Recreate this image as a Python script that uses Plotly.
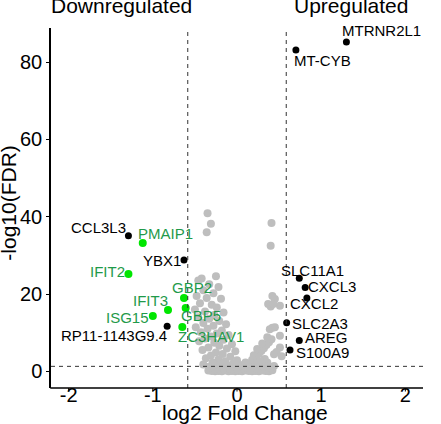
import plotly.graph_objects as go

# ---------------- data ----------------
# non-significant genes (grey)
grey_x = [-0.35, -0.31, -0.36,
          -0.25, -0.42, -0.46, -0.33, -0.22, -0.40, -0.28, -0.48, -0.36, -0.19,
          -0.44, -0.30, -0.24, -0.50, -0.38, -0.16, -0.27, -0.46, -0.33, -0.21,
          -0.40, -0.13, -0.28, -0.49, -0.35, -0.18, -0.43, -0.24, -0.10, -0.31,
          -0.38, -0.16, -0.45, -0.27, -0.06, -0.21, -0.34, -0.12, -0.41, -0.02,
          -0.25, -0.17, -0.31, -0.08, -0.37, -0.22, 0.00, -0.14, -0.29, -0.05,
          -0.40, -0.19, -0.33, -0.11,
          -0.34, -0.30, -0.26, -0.22, -0.18, -0.14, -0.10, -0.06, -0.02, 0.02,
          0.06, 0.10, 0.14, 0.18, 0.22, 0.26, 0.30, 0.34, 0.38, 0.42,
          -0.32, -0.24, -0.16, -0.08, 0.00, 0.08, 0.16, 0.24, 0.32, 0.40, 0.44,
          -0.28, -0.20, -0.12, -0.04, 0.04, 0.12, 0.20, 0.28, 0.36,
          0.05, 0.10, 0.14, 0.18, 0.22, 0.20, 0.26, 0.29, 0.24, 0.32, 0.35,
          0.30, 0.38, 0.41, 0.36, 0.51, 0.51, 0.53, 0.42, 0.39, 0.45, 0.40,
          0.51, 0.45, 0.42, 0.37, 0.43, 0.41, 0.40, 0.33, 0.47, 0.44, 0.27]
grey_y = [40.9, 38.2, 36.0,
          24.6, 24.0, 23.5, 22.5, 21.8, 21.0, 20.2, 19.5, 19.0, 18.8,
          17.6, 17.2, 16.5, 16.0, 15.5, 15.2, 14.6, 14.0, 13.6, 13.0,
          12.5, 12.2, 11.8, 11.4, 11.0, 10.6, 10.1, 9.8, 9.4, 9.0,
          8.5, 8.2, 7.8, 7.4, 7.0, 6.6, 6.2, 5.9, 5.5, 5.2,
          4.9, 4.5, 4.1, 3.8, 3.4, 3.1, 2.9, 2.6, 2.3, 2.0,
          1.8, 1.5, 1.2, 1.0,
          0.2, 0.1, 0.0, 0.1, 0.0, 0.2, 0.0, 0.1, 0.0, 0.1,
          0.0, 0.2, 0.1, 0.0, 0.1, 0.0, 0.2, 0.1, 0.0, 0.3,
          1.0, 0.8, 0.9, 0.7, 0.8, 0.9, 0.7, 0.8, 1.1, 1.0, 1.4,
          1.6, 1.7, 1.5, 1.8, 1.6, 1.9, 1.7, 2.0, 2.3,
          1.5, 2.3, 2.0, 3.0, 3.4, 4.2, 4.5, 5.3, 5.8, 6.0, 6.8,
          7.2, 7.5, 8.3, 8.8, 9.2, 6.2, 3.9, 11.3, 10.9, 11.4, 16.8,
          17.0, 18.7, 19.5, 17.4, 17.4, 38.4, 32.5, 3.2, 5.0, 4.4, 2.6]

# labelled genes
lab_names = ["MTRNR2L1", "MT-CYB", "CCL3L3", "PMAIP1", "YBX1", "IFIT2", "GBP2",
             "IFIT3", "GBP5", "ISG15", "RP11-1143G9.4", "ZC3HAV1",
             "SLC11A1", "CXCL3", "CXCL2", "SLC2A3", "AREG", "S100A9"]
lab_x = [1.30, 0.70, -1.29, -1.12, -0.63, -1.29, -0.63,
         -0.82, -0.61, -1.00, -0.83, -0.65,
         0.74, 0.81, 0.83, 0.59, 0.74, 0.63]
lab_y = [85.2, 83.1, 35.1, 33.2, 28.8, 25.2, 19.0,
         15.9, 16.4, 14.3, 11.7, 11.5,
         24.1, 21.7, 19.0, 12.6, 8.0, 5.5]
lab_group = ["black", "black", "black", "green", "black", "green", "green",
             "green", "green", "green", "black", "green",
             "black", "black", "black", "black", "black", "black"]
# label offsets in pixels (dx, dy; dy positive = down)
lab_dx = [35, 27, -30, 23, -22, -21, 8, -17, 15, -25, -53, 29, 13, 27, 7, 33, 27, 32]
lab_dy = [-11, 10, -8, -9, 0, -2, -10, -9, 8, 1, 9, 10, -8, -1, 6, 1, -3, 2]

fc_cut = 0.585
fdr_cut = 1.3
x_ticks = [-2, -1, 0, 1, 2]
y_ticks = [0, 20, 40, 60, 80]

FONT = "Liberation Sans, Arial, sans-serif"
GREEN_PT = "#00e600"
GREEN_TXT = "#1f9a4a"
PLOT_H = 424 - 28 - 36

fig = go.Figure()
fig.add_trace(go.Scatter(x=grey_x, y=grey_y, mode="markers",
                         marker=dict(color="#bebebe", size=8, line=dict(width=0)),
                         hoverinfo="skip", showlegend=False))

gx = [x for x, g in zip(lab_x, lab_group) if g == "green"]
gy = [y for y, g in zip(lab_y, lab_group) if g == "green"]
bx = [x for x, g in zip(lab_x, lab_group) if g == "black"]
by = [y for y, g in zip(lab_y, lab_group) if g == "black"]
fig.add_trace(go.Scatter(x=gx, y=gy, mode="markers",
                         marker=dict(color=GREEN_PT, size=8, line=dict(width=0)),
                         showlegend=False))
fig.add_trace(go.Scatter(x=bx, y=by, mode="markers",
                         marker=dict(color="black", size=7, line=dict(width=0)),
                         showlegend=False))

for n, x, y, g, dx, dy in zip(lab_names, lab_x, lab_y, lab_group, lab_dx, lab_dy):
    fig.add_annotation(x=x, y=y, text=n, showarrow=False, xshift=dx, yshift=-dy,
                       font=dict(family=FONT, size=15,
                                 color=GREEN_TXT if g == "green" else "black"))

dash = dict(color="#333333", width=1, dash="4px,4px")
fig.add_shape(type="line", x0=-fc_cut, x1=-fc_cut, y0=0, y1=1, xref="x", yref="paper", line=dash)
fig.add_shape(type="line", x0=fc_cut, x1=fc_cut, y0=0, y1=1, xref="x", yref="paper", line=dash)
fig.add_shape(type="line", x0=0, x1=1, y0=fdr_cut, y1=fdr_cut, xref="paper", yref="y", line=dash)

# bottom axis line and x tick marks (labels come from the axis itself)
fig.add_shape(type="line", x0=-0.002, x1=1, y0=0, y1=0, xref="paper", yref="paper",
              line=dict(color="black", width=1.5))
for t in x_ticks:
    fig.add_shape(type="line", x0=t, x1=t, y0=0, y1=-3.5 / PLOT_H, xref="x", yref="paper",
                  line=dict(color="black", width=1))

# headers and axis titles
fig.add_annotation(text="Downregulated", x=-1.37, y=1.10, xref="x", yref="paper",
                   showarrow=False, font=dict(family=FONT, size=21, color="black"))
fig.add_annotation(text="Upregulated", x=1.35, y=1.10, xref="x", yref="paper",
                   showarrow=False, font=dict(family=FONT, size=21, color="black"))
fig.add_annotation(text="log2 Fold Change", x=0.5215, y=-0.105, xref="paper", yref="paper",
                   showarrow=False, font=dict(family=FONT, size=21, color="black"))
fig.add_annotation(text="-log10(FDR)", x=-0.15, y=0.514, xref="paper", yref="paper",
                   textangle=-90, showarrow=False,
                   font=dict(family=FONT, size=21, color="black"))

fig.update_layout(
    width=441, height=424,
    margin=dict(l=51, r=18, t=28, b=36, autoexpand=False),
    paper_bgcolor="white", plot_bgcolor="white",
    font=dict(family=FONT, color="black"),
    showlegend=False,
)
fig.update_xaxes(range=[-2.21, 2.21], tickvals=x_ticks, ticktext=[str(v) for v in x_ticks],
                 anchor="free", position=7 / PLOT_H, ticks="",
                 showline=False, automargin=False,
                 showgrid=False, zeroline=False, tickfont=dict(size=20, color="black"))
fig.update_yaxes(range=[-4.3, 88.8], tickvals=y_ticks, ticktext=[str(v) for v in y_ticks],
                 ticks="outside", ticklen=3, tickcolor="black", tickwidth=1,
                 showline=True, linecolor="black", linewidth=1.5, automargin=False,
                 showgrid=False, zeroline=False, tickfont=dict(size=20, color="black"))

fig.write_html("out.html")
